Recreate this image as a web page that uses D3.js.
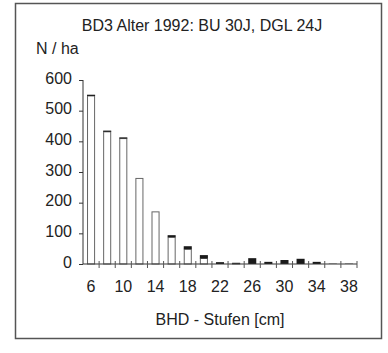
<!DOCTYPE html>
<html>
<head>
<meta charset="utf-8">
<script src="https://cdn.jsdelivr.net/npm/d3@7"></script>
<style>
  html, body { margin: 0; padding: 0; background: #fff; }
  svg { display: block; }
  text { font-family: "Liberation Sans", Arial, sans-serif; fill: #222; }
</style>
</head>
<body>
<script>
// Diameter classes (BHD-Stufen, cm)
const classes = [6, 8, 10, 12, 14, 16, 18, 20, 22, 24, 26, 28, 30, 32, 34, 36, 38];
// Stems per hectare, beech (BU) part – open bars
const buValues = [548, 431, 409, 279, 170, 87, 48, 18, 0, 1, 0, 0, 0, 0, 0, 0, 0];
// Stems per hectare, Douglas fir (DGL) part – black bars stacked on top
const dglValues = [4, 4, 4, 0, 0, 7, 10, 11, 6, 3, 19, 7, 13, 17, 7, 1, 1];
// Axis ticks
const yTicks = [0, 100, 200, 300, 400, 500, 600];
const xTickLabels = [6, 10, 14, 18, 22, 26, 30, 34, 38];

const W = 388, H = 353;
const FS = 16;
const svg = d3.select("body").append("svg").attr("width", W).attr("height", H);

// Frame around the chart
svg.append("rect")
  .attr("x", 15.5).attr("y", 3.5)
  .attr("width", 366).attr("height", 335)
  .attr("fill", "#fff").attr("stroke", "#555").attr("stroke-width", 1.5);

svg.append("text")
  .attr("x", 202).attr("y", 31)
  .attr("text-anchor", "middle")
  .attr("font-size", FS)
  .text("BD3 Alter 1992: BU 30J, DGL 24J");

svg.append("text")
  .attr("x", 36).attr("y", 54)
  .attr("font-size", FS)
  .text("N / ha");

const x = d3.scaleBand().domain(classes).range([83, 357]).paddingInner(0).paddingOuter(0);
const y = d3.scaleLinear().domain([0, 600]).range([264, 80]);

const rows = classes.map((c, i) => ({ c, bu: buValues[i], dgl: dglValues[i] }));
const barW = x.bandwidth() * 0.5;
const barX = d => x(d.c) + (x.bandwidth() - barW) / 2;

// Open bars (BU)
svg.append("g").selectAll("rect").data(rows.filter(d => d.bu > 0)).join("rect")
  .attr("x", d => barX(d) + 0.5)
  .attr("y", d => y(d.bu))
  .attr("width", barW - 1)
  .attr("height", d => y(0) - y(d.bu))
  .attr("fill", "#fff").attr("stroke", "#666").attr("stroke-width", 1);

// Black bars stacked on top (DGL)
svg.append("g").selectAll("rect").data(rows.filter(d => d.dgl > 0)).join("rect")
  .attr("x", d => barX(d))
  .attr("y", d => y(d.bu + d.dgl))
  .attr("width", barW)
  .attr("height", d => y(d.bu) - y(d.bu + d.dgl))
  .attr("fill", "#1a1a1a");

// Y axis
const yAxis = svg.append("g").attr("transform", "translate(83,0)")
  .call(d3.axisLeft(y).tickValues(yTicks).tickSize(4).tickPadding(7).tickFormat(d3.format("d")));
yAxis.select(".domain").attr("stroke", "#333").attr("d", "M0," + y(600) + "V" + y(0));
yAxis.selectAll(".tick line").attr("stroke", "#333");
yAxis.selectAll(".tick text").attr("font-size", FS).attr("fill", "#222")
  .attr("font-family", "Liberation Sans, Arial, sans-serif").attr("dy", "0.2em");

// X axis: line with tick marks at class boundaries
const xg = svg.append("g");
xg.append("line").attr("x1", 83).attr("x2", 357).attr("y1", y(0)).attr("y2", y(0))
  .attr("stroke", "#333").attr("stroke-width", 1.2);
const bounds = classes.map(c => x(c)).concat([x(classes[classes.length - 1]) + x.bandwidth()]);
xg.selectAll("line.tk").data(bounds.slice(1)).join("line").attr("class", "tk")
  .attr("x1", d => d).attr("x2", d => d)
  .attr("y1", y(0) - 3).attr("y2", y(0) + 4)
  .attr("stroke", "#555");
xg.selectAll("text").data(xTickLabels).join("text")
  .attr("x", d => x(d) + x.bandwidth() / 2)
  .attr("y", 292)
  .attr("text-anchor", "middle")
  .attr("font-size", FS)
  .text(d => d);

svg.append("text")
  .attr("x", 220).attr("y", 325)
  .attr("text-anchor", "middle")
  .attr("font-size", FS)
  .text("BHD - Stufen [cm]");
</script>
</body>
</html>
